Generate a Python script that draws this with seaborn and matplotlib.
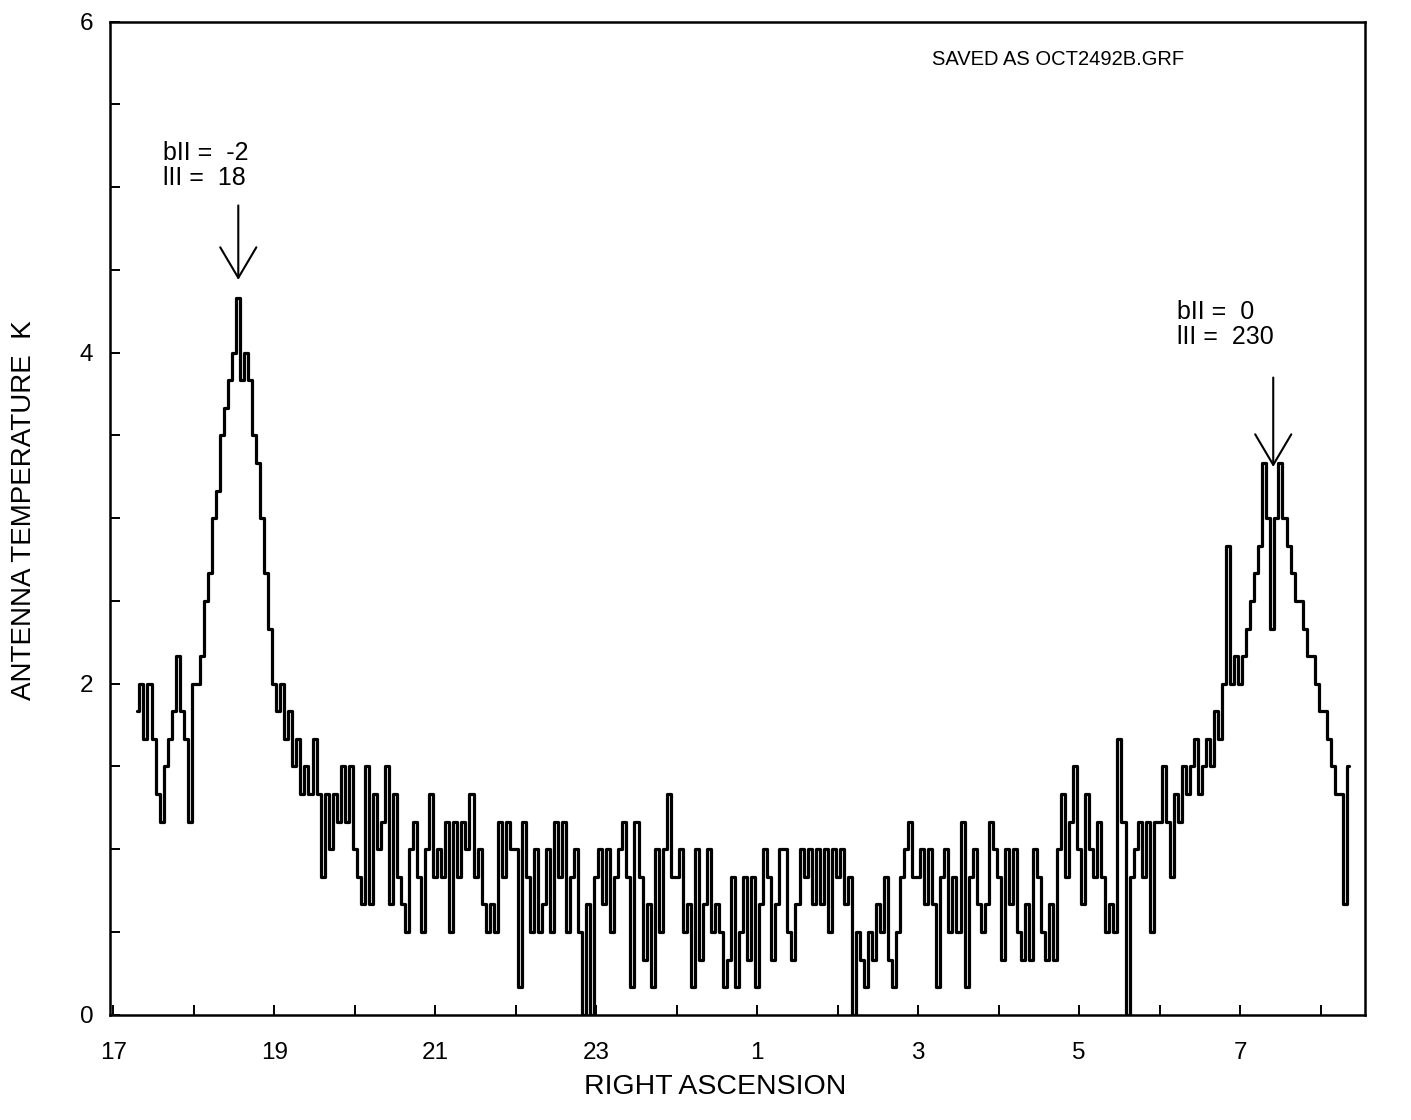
import numpy as np
import pandas as pd
import seaborn as sns
import matplotlib.pyplot as plt

# drift scan in receiver counts (1 count = 1/6 K)
# one list per hour of right ascension, samples every 0.05 h starting 17.30 h
ra_start = 17.30
ra_step = 0.05
kelvin_per_count = 1 / 6

counts_17 = [11, 12, 10, 12, 10, 8, 7, 9, 10, 11, 13, 11, 10, 7]
counts_18 = [12, 12, 13, 15, 16, 18, 19, 21, 22, 23, 24, 26, 23, 24, 23, 21, 20, 18, 16, 14]
counts_19 = [12, 11, 12, 10, 11, 9, 10, 8, 9, 8, 10, 8, 5, 8, 6, 8, 7, 9, 7, 9]
counts_20 = [6, 5, 4, 9, 4, 8, 6, 7, 9, 4, 8, 5, 4, 3, 6, 7, 5, 3, 6, 8]
counts_21 = [5, 6, 5, 7, 3, 7, 5, 7, 6, 8, 5, 6, 4, 3, 4, 3, 7, 5, 7, 6]
counts_22 = [6, 1, 7, 5, 3, 6, 3, 4, 6, 3, 7, 5, 7, 3, 5, 6, 3, 0, 4, 0]
counts_23 = [5, 6, 4, 6, 3, 5, 6, 7, 5, 1, 7, 5, 2, 4, 1, 6, 3, 6, 8, 5]
counts_00 = [5, 6, 3, 4, 1, 6, 2, 4, 6, 3, 4, 3, 1, 2, 5, 1, 3, 5, 2, 5]
counts_01 = [1, 4, 6, 5, 2, 4, 6, 6, 3, 2, 4, 6, 5, 6, 4, 6, 4, 6, 3, 6]
counts_02 = [5, 6, 4, 5, 0, 3, 2, 1, 3, 2, 4, 3, 5, 2, 1, 3, 5, 6, 7, 5]
counts_03 = [5, 6, 4, 6, 4, 1, 5, 6, 3, 5, 3, 7, 1, 5, 6, 4, 3, 4, 7, 6]
counts_04 = [5, 2, 6, 4, 6, 3, 2, 4, 2, 6, 5, 3, 2, 4, 2, 6, 8, 5, 7, 9]
counts_05 = [6, 4, 8, 6, 5, 7, 5, 3, 4, 3, 10, 7, 0, 5, 6, 7, 5, 7, 3, 7]
counts_06 = [7, 9, 7, 5, 8, 7, 9, 8, 9, 10, 8, 9, 10, 9, 11, 10, 12, 17, 12, 13]
counts_07 = [12, 13, 14, 15, 16, 17, 20, 18, 14, 18, 20, 18, 17, 16, 15, 15, 14, 13, 13, 12]
counts_08 = [11, 11, 10, 9, 8, 8, 4, 9]

tick_hours = [17, 19, 21, 23, 25, 27, 29, 31]
tick_labels = ['17', '19', '21', '23', '1', '3', '5', '7']

source_1 = 'bII =  -2\nlII =  18'
source_2 = 'bII =  0\nlII =  230'

counts = (counts_17 + counts_18 + counts_19 + counts_20 + counts_21 + counts_22
          + counts_23 + counts_00 + counts_01 + counts_02 + counts_03 + counts_04
          + counts_05 + counts_06 + counts_07 + counts_08)
scan = pd.DataFrame({'ra': ra_start + ra_step * np.arange(len(counts)),
                     'temp': np.array(counts) * kelvin_per_count})

sns.set_style('ticks')
plt.rcParams['font.family'] = ['Liberation Sans', 'DejaVu Sans']
plt.rcParams['text.color'] = 'black'
plt.rcParams['axes.labelcolor'] = 'black'

fig = plt.figure(figsize=(14.11, 11.2), dpi=100)
ax = fig.add_axes([0.078, 0.094, 0.8894, 0.8866])

sns.lineplot(data=scan, x='ra', y='temp', color='black', linewidth=2.3,
             drawstyle='steps-mid', ax=ax)

ax.set_xlim(16.96, 32.55)
ax.set_ylim(0, 6)
ax.set_xticks(tick_hours)
ax.set_xticklabels(tick_labels)
ax.set_xticks(np.arange(17, 33), minor=True)
ax.set_yticks([0, 2, 4, 6])
ax.set_yticks(np.arange(0, 6.01, 0.5), minor=True)
ax.tick_params(which='both', direction='in', length=7, width=1.4, colors='black',
               top=False, right=False)
ax.tick_params(axis='x', which='major', pad=20, labelsize=17.5)
ax.tick_params(axis='y', which='major', pad=12, labelsize=17.5)
for sp in ax.spines.values():
    sp.set_linewidth(1.8)
    sp.set_color('black')

ax.set_xlabel('RIGHT ASCENSION', fontsize=20.5)
ax.set_ylabel('ANTENNA TEMPERATURE  K', fontsize=20)
ax.xaxis.set_label_coords(0.482, -0.060)
ax.yaxis.set_label_coords(-0.058, 0.508)

ax.text(0.655, 0.962, 'SAVED AS OCT2492B.GRF', transform=ax.transAxes,
        ha='left', va='center', fontsize=14.5)

ax.text(17.62, 5.13, source_1, ha='left', va='center', fontsize=18, linespacing=1.05)
ax.text(30.22, 4.17, source_2, ha='left', va='center', fontsize=18, linespacing=1.05)

arrow = dict(arrowstyle='->, head_length=22, head_width=13', mutation_scale=1,
             color='black', linewidth=1.5, shrinkA=0, shrinkB=0)
ax.annotate('', xy=(18.553, 4.44), xytext=(18.553, 4.89), arrowprops=arrow)
ax.annotate('', xy=(31.41, 3.31), xytext=(31.41, 3.85), arrowprops=arrow)

fig.savefig('out.png', dpi=100)
